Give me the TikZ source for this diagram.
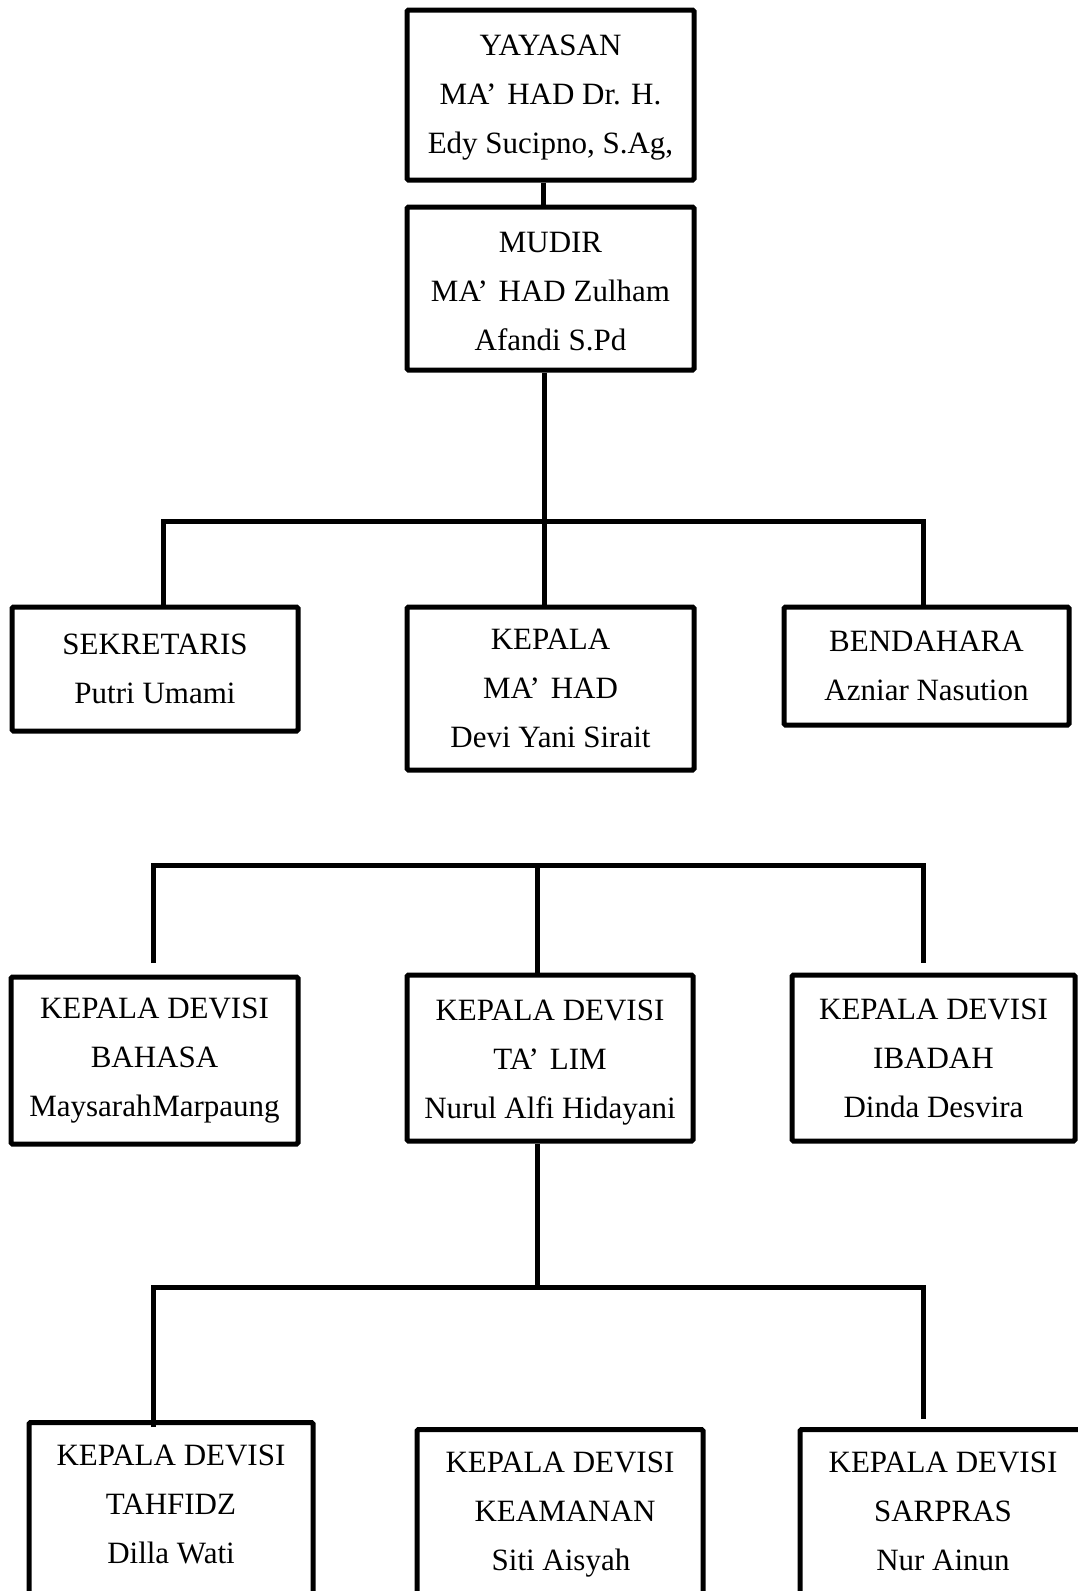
\documentclass[tikz,border=0pt]{standalone}
\usepackage{fontspec}
\setmainfont{Liberation Serif}
\begin{document}
\begin{tikzpicture}[x=1pt,y=-1pt,
  box/.style={draw, line width=5pt, rounded corners=1.5pt, align=center, inner sep=0pt,
    font=\fontsize{31}{49}\selectfont},
  conn/.style={line width=5pt, line join=miter}]
\useasboundingbox (0,0) rectangle (1078,1591);
\clip (0,0) rectangle (1078,1591);

% top
\node[box, minimum width=287pt, minimum height=170pt] (yayasan) at (550.5,95)
  {\rule{0pt}{26.5pt}YAYASAN\\MA’\hspace{0.35em}HAD Dr. H.\\Edy Sucipno, S.Ag,};
\node[box, minimum width=287pt, minimum height=163pt] (mudir) at (550.5,288.5)
  {\rule{0pt}{26.5pt}MUDIR\\MA’\hspace{0.35em}HAD Zulham\\Afandi S.Pd};

% second row
\node[box, minimum width=286pt, minimum height=124pt] (sekretaris) at (155,669)
  {SEKRETARIS\\Putri Umami};
\node[box, minimum width=287pt, minimum height=163pt] (kepala) at (550.5,688.5)
  {KEPALA\\MA’\hspace{0.35em}HAD\\Devi Yani Sirait};
\node[box, minimum width=285pt, minimum height=118pt] (bendahara) at (926.5,666)
  {BENDAHARA\\Azniar Nasution};

% third row
\node[box, minimum width=287pt, minimum height=167pt] (bahasa) at (154.5,1060.5)
  {KEPALA DEVISI\\BAHASA\\Maysarah\hspace{-7pt} Marpaung};
\node[box, minimum width=286pt, minimum height=166pt] (talim) at (550,1058)
  {\rule{0pt}{30.5pt}KEPALA DEVISI\\TA’\hspace{0.35em}LIM\\Nurul Alfi Hidayani};
\node[box, minimum width=283pt, minimum height=166pt] (ibadah) at (933.5,1058)
  {KEPALA DEVISI\\IBADAH\\Dinda Desvira};

% bottom row (cut by the page edge)
\node[box, anchor=north, minimum width=284pt] (tahfidz) at (171,1420)
  {\rule{0pt}{43pt}KEPALA DEVISI\\TAHFIDZ\\Dilla Wati\rule[-150pt]{0pt}{0pt}};
\node[box, anchor=north, minimum width=286pt] (keamanan) at (560,1427)
  {\rule{0pt}{43pt}KEPALA DEVISI\\\hspace{10pt}KEAMANAN\\\hspace{2pt}Siti Aisyah\rule[-150pt]{0pt}{0pt}};
\node[box, anchor=north, minimum width=286pt] (sarpras) at (943,1427)
  {\rule{0pt}{43pt}KEPALA DEVISI\\SARPRAS\\Nur Ainun\rule[-150pt]{0pt}{0pt}};

% junction coordinates
\coordinate (c0) at (543,0);
\coordinate (b1l) at (163,521);
\coordinate (b1m) at (544,521);
\coordinate (b1r) at (923,521);
\coordinate (b2l) at (153,865);
\coordinate (b2m) at (537,865);
\coordinate (b2r) at (923,865);
\coordinate (d2l) at (153,963);
\coordinate (d2r) at (923,963);
\coordinate (b3l) at (153,1287);
\coordinate (b3m) at (537,1287);
\coordinate (b3r) at (923,1287);
\coordinate (d3l) at (153,1427);
\coordinate (d3r) at (923,1419);

% connectors
\draw[conn] (yayasan.south -| c0) -- (mudir.north -| c0);
\draw[conn] (mudir.south -| b1m) -- (kepala.north -| b1m);
\draw[conn] (sekretaris.north -| b1l) -- (b1l) -- (b1r) -- (bendahara.north -| b1r);
\draw[conn] (d2l) -- (b2l) -- (b2r) -- (d2r);
\draw[conn] (b2m) -- (talim.north -| b2m);
\draw[conn] (talim.south -| b3m) -- (b3m);
\draw[conn] (d3l) -- (b3l) -- (b3r) -- (d3r);
\end{tikzpicture}
\end{document}
